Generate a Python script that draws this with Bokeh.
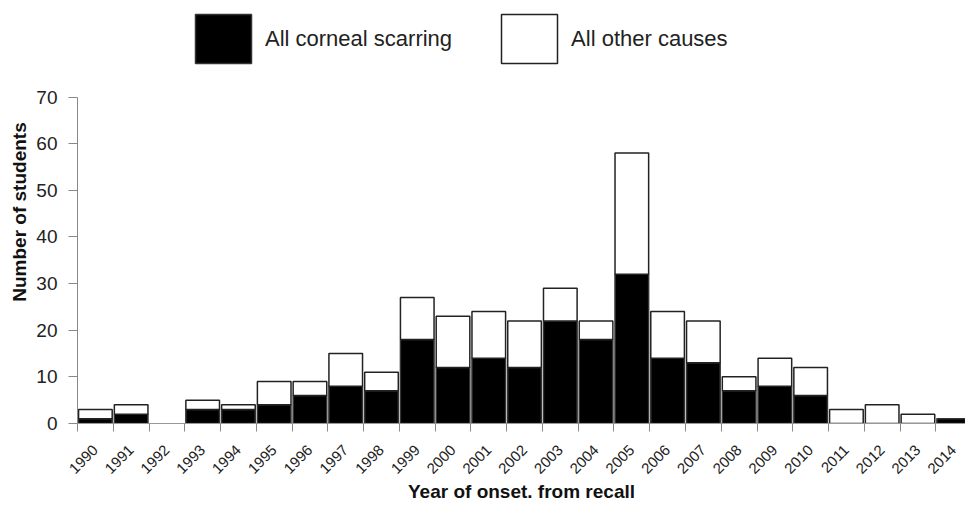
import math
from bokeh.plotting import figure
from bokeh.models import (Range1d, FixedTicker, LinearAxis, Legend, LegendItem, ColumnDataSource)
from bokeh.embed import file_html
from bokeh.resources import INLINE

years = [str(y) for y in range(1990, 2015)]
scarring = [1, 2, 0, 3, 3, 4, 6, 8, 7, 18, 12, 14, 12, 22, 18, 32, 14, 13, 7, 8, 6, 0, 0, 0, 1]
other = [2, 2, 0, 2, 1, 5, 3, 7, 4, 9, 11, 10, 10, 7, 4, 26, 10, 9, 3, 6, 6, 3, 4, 2, 0]
y_ticks = [0, 10, 20, 30, 40, 50, 60, 70]

xpos = [i + 0.5 for i in range(len(years))]
# hide the outline of empty (zero-height) segments
lc_s = ["#333333" if v > 0 else None for v in scarring]
lc_o = ["#222222" if v > 0 else None for v in other]
src = ColumnDataSource(dict(x=xpos, scarring=scarring, other=other, years=years,
                            lc_s=lc_s, lc_o=lc_o))

FONT = "Liberation Sans"

# frame spans from the top of the figure so that the legend can sit inside it;
# the y axis itself is bounded to 0..70
FRAME_BOTTOM = 423.0
TOP70 = 96.5
y_top = 70 * FRAME_BOTTOM / (FRAME_BOTTOM - TOP70)

p = figure(width=965, height=507, output_backend="svg", toolbar_location=None,
           x_range=Range1d(0, 24.83), y_range=Range1d(0, y_top),
           min_border_left=77, min_border_right=0, min_border_top=0,
           min_border_bottom=int(507 - FRAME_BOTTOM),
           x_axis_type=None, y_axis_type=None)
p.outline_line_color = None
p.xgrid.visible = False
p.ygrid.visible = False

rs = p.vbar_stack(["scarring", "other"], x="x", width=0.94, source=src,
                  fill_color=["black", "white"], line_color=["lc_s", "lc_o"], line_width=1.5)

# x axis: ticks between the bars, labels under the bars
xaxis = LinearAxis(ticker=FixedTicker(ticks=xpos, minor_ticks=list(range(len(years) + 1))))
xaxis.major_label_overrides = {x: y for x, y in zip(xpos, years)}
xaxis.major_tick_out = 0
xaxis.major_tick_in = 0
xaxis.minor_tick_out = 8
xaxis.minor_tick_in = 0
xaxis.minor_tick_line_color = "#888888"
xaxis.axis_line_color = "#999999"
xaxis.major_label_orientation = math.pi / 4
xaxis.major_label_text_font = FONT
xaxis.major_label_text_font_size = "15px"
xaxis.major_label_text_color = "#222222"
xaxis.major_label_standoff = 16
xaxis.axis_label = "Year of onset. from recall"
xaxis.axis_label_text_font = FONT
xaxis.axis_label_text_font_style = "bold"
xaxis.axis_label_text_font_size = "19px"
xaxis.axis_label_text_color = "#111111"
xaxis.axis_label_standoff = 0
p.add_layout(xaxis, "below")

# y axis
yaxis = LinearAxis(ticker=FixedTicker(ticks=y_ticks, minor_ticks=[]), bounds=(0, 70))
yaxis.major_tick_out = 9
yaxis.major_tick_in = 0
yaxis.major_tick_line_color = "#888888"
yaxis.axis_line_color = "#888888"
yaxis.major_label_text_font = FONT
yaxis.major_label_text_font_size = "19px"
yaxis.major_label_text_color = "#222222"
yaxis.major_label_standoff = 11
yaxis.axis_label = "Number of students"
yaxis.axis_label_text_font = FONT
yaxis.axis_label_text_font_style = "bold"
yaxis.axis_label_text_font_size = "19px"
yaxis.axis_label_text_color = "#111111"
yaxis.axis_label_standoff = 3
p.add_layout(yaxis, "left")

legend = Legend(items=[LegendItem(label="All corneal scarring", renderers=[rs[0]]),
                       LegendItem(label="All other causes", renderers=[rs[1]])],
                location=(111, FRAME_BOTTOM - 69), orientation="horizontal",
                glyph_width=70, glyph_height=61, label_standoff=7, spacing=42,
                padding=0, margin=0, border_line_color=None, background_fill_alpha=0,
                label_text_font=FONT, label_text_font_size="22px", label_text_color="#222222")
p.add_layout(legend, "center")

open("out.html", "w").write(file_html(p, INLINE))
